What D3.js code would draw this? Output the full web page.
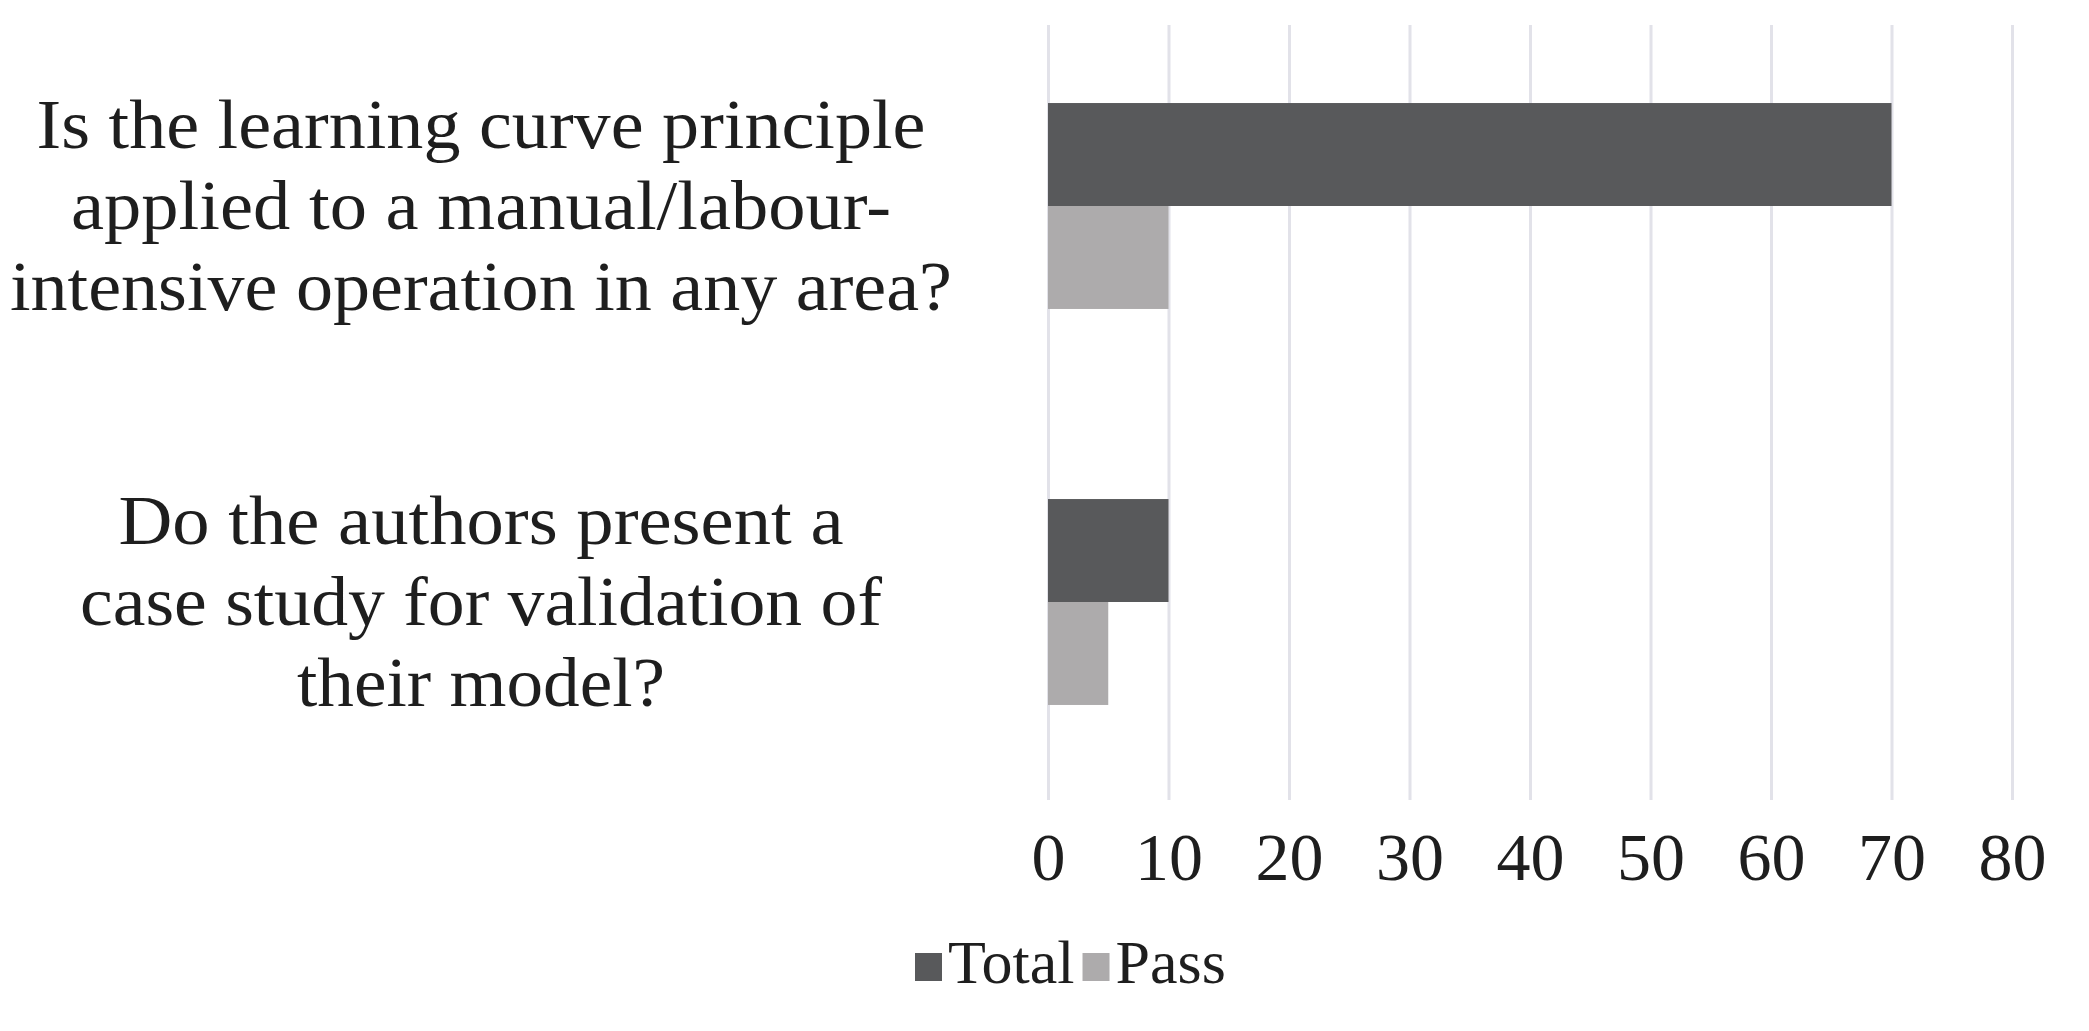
<!DOCTYPE html>
<html>
<head>
<meta charset="utf-8">
<script src="https://cdn.jsdelivr.net/npm/d3@7"></script>
<style>
  body { margin: 0; background: #fff; }
  text { font-family: "Liberation Serif", "Times New Roman", serif; fill: #1e1e1e; }
</style>
</head>
<body>
<script>
const categories = ['q1', 'q2']
const categoryLines = [
     ['Is the learning curve principle', 'applied to a manual/labour-', 'intensive operation in any area?'],
     ['Do the authors present a', 'case study for validation of', 'their model?']
]
// measured line widths in the picture, used to squeeze the serif a bit
const lineWidths = [[889, 820, 942], [725, 802, 368]]
const seriesNames = ['Total', 'Pass']
const totalValues = [70, 10]
const passValues = [10, 5]
const tickValues = [0, 10, 20, 30, 40, 50, 60, 70, 80]
const colors = ['#58595b', '#adabac']

const w = 2089
const h = 1031
const plotTop = 25
const plotBottom = 800

const svg = d3.select('body')
     .append('svg')
     .attr('width', w)
     .attr('height', h)

const xScale = d3.scaleLinear()
     .domain([0, 80])
     .range([1048, 2012])

const yScale = d3.scaleBand()
     .domain(categories)
     .range([8, plotBottom])
     .paddingInner(0.48)
     .paddingOuter(0.24)

const ySeries = d3.scaleBand()
     .domain(seriesNames)
     .range([0, yScale.bandwidth()])

// gridlines + tick labels
const xAxis = d3.axisBottom(xScale)
     .tickValues(tickValues)
     .tickSizeInner(-(plotBottom - plotTop))
     .tickSizeOuter(0)
     .tickPadding(32)
const gx = svg.append('g')
     .attr('transform', 'translate(0,' + plotBottom + ')')
     .call(xAxis)
gx.select('.domain').remove()
gx.selectAll('.tick line')
     .attr('stroke', '#e2e2e9')
     .attr('stroke-width', 3)
gx.selectAll('.tick text')
     .attr('font-size', 68)
     .attr('font-family', '"Liberation Serif", serif')
     .attr('fill', '#1e1e1e')

// bars
const rows = categories.map((c, i) => ({ cat: c, values: [totalValues[i], passValues[i]] }))
const groups = svg.selectAll('g.row')
     .data(rows)
     .enter()
     .append('g')
     .attr('class', 'row')
     .attr('transform', d => 'translate(0,' + yScale(d.cat) + ')')
groups.selectAll('rect')
     .data(d => d.values.map((v, j) => ({ name: seriesNames[j], value: v, j: j })))
     .enter()
     .append('rect')
     .attr('x', xScale(0))
     .attr('y', d => ySeries(d.name))
     .attr('width', d => xScale(d.value) - xScale(0))
     .attr('height', ySeries.bandwidth())
     .attr('fill', d => colors[d.j])

// category labels, centred on each group
const labelX = 481
const lineGap = 81
categories.forEach((c, i) => {
     const mid = yScale(c) + yScale.bandwidth() / 2
     const lines = categoryLines[i]
     lines.forEach((line, k) => {
          svg.append('text')
               .attr('x', labelX)
               .attr('y', mid + (k - (lines.length - 1) / 2) * lineGap + 23)
               .attr('text-anchor', 'middle')
               .attr('font-size', 70)
               .attr('textLength', lineWidths[i][k])
               .attr('lengthAdjust', 'spacingAndGlyphs')
               .text(line)
     })
})

// legend
const legend = svg.append('g')
let lx = 915
seriesNames.forEach((name, j) => {
     legend.append('rect')
          .attr('x', lx)
          .attr('y', 953)
          .attr('width', 27)
          .attr('height', 28)
          .attr('fill', colors[j])
     const t = legend.append('text')
          .attr('x', lx + 33)
          .attr('y', 983)
          .attr('font-size', 62)
          .text(name)
     lx = lx + 33 + t.node().getComputedTextLength() + 8
})
</script>
</body>
</html>
